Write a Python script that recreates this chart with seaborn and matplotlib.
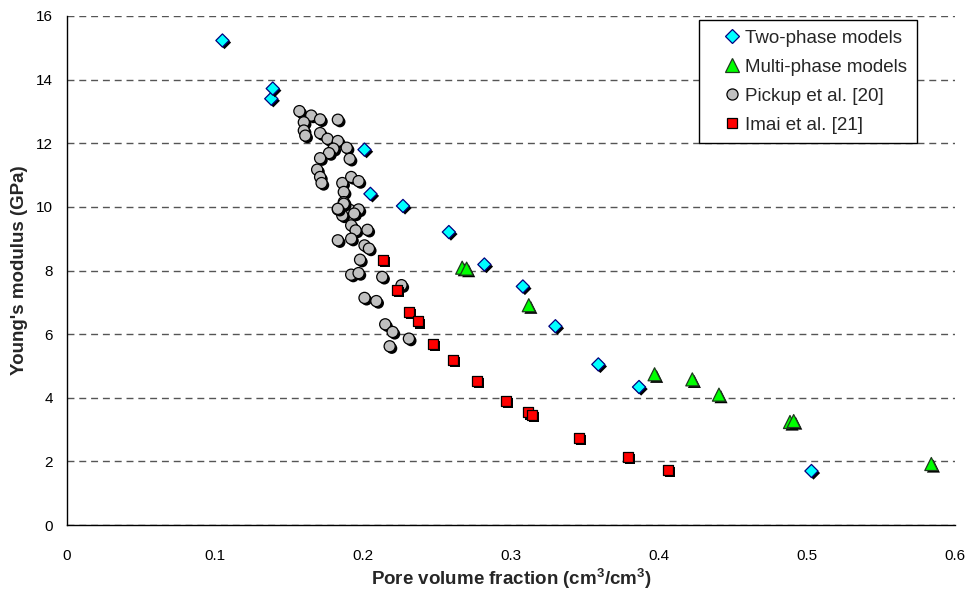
import matplotlib
matplotlib.use("Agg")
import matplotlib.pyplot as plt
import matplotlib.patheffects as pe
from matplotlib.lines import Line2D
from matplotlib.legend_handler import HandlerLine2D
import seaborn as sns

# Two-phase model predictions
two_phase_x = [0.105, 0.138, 0.139, 0.201, 0.205, 0.227, 0.258, 0.282, 0.308, 0.330, 0.359, 0.3865, 0.503]
two_phase_y = [15.23, 13.40, 13.72, 11.80, 10.41, 10.03, 9.21, 8.19, 7.50, 6.25, 5.05, 4.34, 1.70]

# Multi-phase model predictions
multi_phase_x = [0.267, 0.270, 0.312, 0.397, 0.4225, 0.4405, 0.4885, 0.491, 0.584]
multi_phase_y = [8.09, 8.06, 6.91, 4.74, 4.58, 4.10, 3.24, 3.27, 1.92]

# Pickup et al. [20] measurements
pickup_x = [0.157, 0.165, 0.171, 0.183, 0.160, 0.160, 0.161, 0.171, 0.176, 0.183,
            0.180, 0.189, 0.177, 0.191, 0.171, 0.169, 0.171, 0.172, 0.186, 0.192,
            0.197, 0.187, 0.187, 0.183, 0.191, 0.197, 0.186, 0.187, 0.183, 0.194,
            0.192, 0.195, 0.203, 0.183, 0.192, 0.201, 0.204, 0.198, 0.192, 0.197,
            0.213, 0.226, 0.201, 0.209, 0.215, 0.220, 0.231, 0.218]
pickup_y = [13.01, 12.87, 12.75, 12.74, 12.66, 12.40, 12.24, 12.32, 12.14, 12.07,
            11.83, 11.86, 11.69, 11.51, 11.53, 11.17, 10.94, 10.75, 10.75, 10.94,
            10.81, 10.47, 10.15, 9.92, 9.91, 9.92, 9.73, 10.10, 9.94, 9.79,
            9.42, 9.26, 9.28, 8.95, 9.00, 8.79, 8.69, 8.34, 7.87, 7.92,
            7.80, 7.54, 7.14, 7.04, 6.31, 6.07, 5.86, 5.62]

# Imai et al. [21] measurements
imai_x = [0.2137, 0.2232, 0.2313, 0.2374, 0.2475, 0.261, 0.2768, 0.2964, 0.3113, 0.314, 0.3462, 0.3793, 0.4063]
imai_y = [8.34, 7.38, 6.70, 6.40, 5.70, 5.20, 4.53, 3.89, 3.54, 3.45, 2.74, 2.14, 1.73]

x_ticks = [0, 0.1, 0.2, 0.3, 0.4, 0.5, 0.6]
x_tick_labels = ["0", "0.1", "0.2", "0.3", "0.4", "0.5", "0.6"]
y_ticks = [0, 2, 4, 6, 8, 10, 12, 14, 16]
y_tick_labels = [str(v) for v in y_ticks]


class ShiftedMarkerHandler(HandlerLine2D):
    """Legend handler that nudges the marker towards the label text."""

    def __init__(self, shift=4.5, **kw):
        super().__init__(**kw)
        self.shift = shift

    def create_artists(self, legend, orig_handle, xdescent, ydescent,
                       width, height, fontsize, trans):
        return super().create_artists(legend, orig_handle, xdescent - self.shift,
                                      ydescent, width, height, fontsize, trans)


sns.set_theme(style="white")
plt.rcParams['font.family'] = ['Liberation Sans', 'DejaVu Sans']
plt.rcParams['mathtext.default'] = 'regular'

fig = plt.figure(figsize=(9.73, 5.9), dpi=100)
ax = fig.add_axes([0.0689, 0.110, 0.9126, 0.8629])

shadow = [pe.withSimplePatchShadow(offset=(1.5, -1.5), shadow_rgbFace='black', alpha=1.0)]

series = [
    (pickup_x, pickup_y, 'o', 64, '#C0C0C0', 'black'),
    (imai_x, imai_y, 's', 52, '#FF0000', 'black'),
    (two_phase_x, two_phase_y, 'D', 45, '#00FFFF', '#000080'),
    (multi_phase_x, multi_phase_y, '^', 88, '#00FF00', '#1E3A1E'),
]
for xs, ys, mk, size, face, edge in series:
    sns.scatterplot(x=xs, y=ys, marker=mk, s=size, color=face, edgecolor=edge,
                    linewidth=0.9, ax=ax, zorder=3)
    ax.collections[-1].set_path_effects(shadow)

ax.set_xlim(0, 0.6)
ax.set_ylim(0, 16)
ax.set_xticks(x_ticks)
ax.set_xticklabels(x_tick_labels)
ax.set_yticks(y_ticks)
ax.set_yticklabels(y_tick_labels)
ax.tick_params(axis='both', labelsize=11, colors='black')
ax.tick_params(axis='x', direction='out', length=5, width=1, pad=12)
ax.tick_params(axis='y', direction='inout', length=8, width=1, pad=6)

ax.yaxis.grid(True, linestyle=(0, (5, 3.5)), color='#555555', linewidth=1.0)
ax.xaxis.grid(False)
ax.set_axisbelow(True)
for side in ['top', 'right']:
    ax.spines[side].set_visible(False)
for side in ['left', 'bottom']:
    ax.spines[side].set_color('black')
    ax.spines[side].set_linewidth(1.0)

ax.set_xlabel('Pore volume fraction (cm$^3$/cm$^3$)', fontsize=13.5, fontweight='bold', labelpad=3)
ax.set_ylabel("Young's modulus (GPa)", fontsize=13.5, fontweight='bold', labelpad=6)

handles = [
    Line2D([], [], ls='', marker='D', ms=6.7, mfc='#00FFFF', mec='#000080', mew=0.9),
    Line2D([], [], ls='', marker='^', ms=9.4, mfc='#00FF00', mec='#1E3A1E', mew=0.9),
    Line2D([], [], ls='', marker='o', ms=8, mfc='#C0C0C0', mec='black', mew=0.9),
    Line2D([], [], ls='', marker='s', ms=7.2, mfc='#FF0000', mec='black', mew=0.9),
]
labels = ['Two-phase models', 'Multi-phase models', 'Pickup et al. [20]', 'Imai et al. [21]']
leg = ax.legend(handles, labels, loc='upper right', bbox_to_anchor=(0.957, 0.992),
                fontsize=13.5, frameon=True, fancybox=False, shadow=False,
                handlelength=1.853, handletextpad=0.1, labelspacing=0.64,
                borderpad=0.5, borderaxespad=0,
                handler_map={Line2D: ShiftedMarkerHandler(shift=4.5)})
leg.get_frame().set_edgecolor('black')
leg.get_frame().set_linewidth(1.0)
leg.get_frame().set_facecolor('white')
leg.get_frame().set_alpha(1.0)

fig.savefig('out.png', dpi=100)
